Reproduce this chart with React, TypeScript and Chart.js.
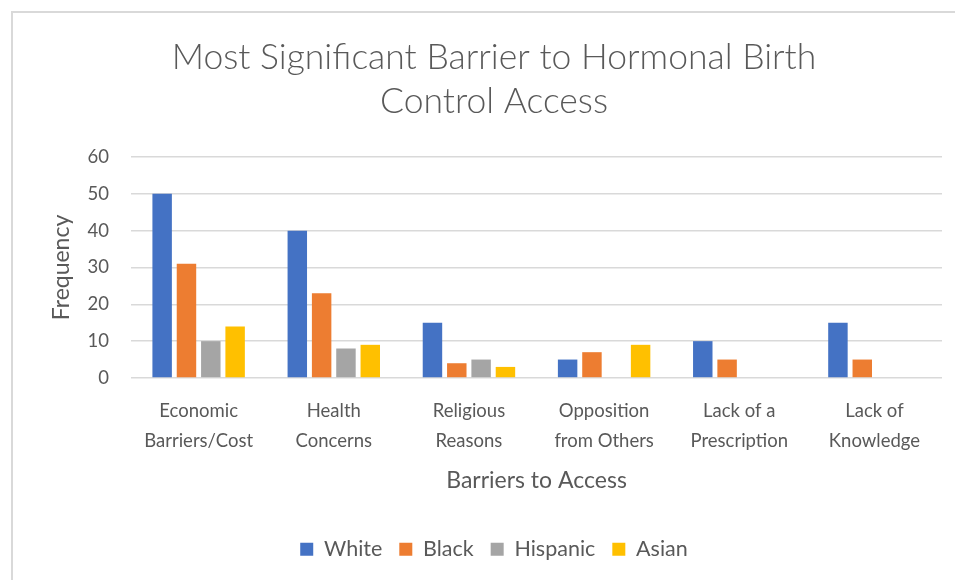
import React, { useEffect, useRef } from "react";
import { Chart, registerables } from "chart.js";

Chart.register(...registerables);

const categories: string[][] = [
  ["Economic", "Barriers/Cost"],
  ["Health", "Concerns"],
  ["Religious", "Reasons"],
  ["Opposition", "from Others"],
  ["Lack of a", "Prescription"],
  ["Lack of", "Knowledge"],
];
const white = [50, 40, 15, 5, 10, 15];
const black = [31, 23, 4, 7, 5, 5];
const hispanic = [10, 8, 5, 0, 0, 0];
const asian = [14, 9, 3, 9, 0, 0];

const titleLines = ["Most Significant Barrier to Hormonal Birth", "Control Access"];
const xTitle = "Barriers to Access";
const yTitle = "Frequency";

const FONT = "Lato, 'Open Sans', sans-serif";
const TEXT = "#595959";

const framePlugin = {
  id: "frame",
  beforeDraw(chart: any) {
    const ctx = chart.ctx;
    ctx.save();
    ctx.fillStyle = "#ffffff";
    ctx.fillRect(0, 0, chart.width, chart.height);
    ctx.strokeStyle = "#d9d9d9";
    ctx.lineWidth = 2;
    ctx.beginPath();
    ctx.moveTo(12, chart.height + 5);
    ctx.lineTo(12, 12);
    ctx.lineTo(chart.width + 5, 12);
    ctx.stroke();
    ctx.restore();
  },
};

export default function App() {
  const ref = useRef<HTMLCanvasElement>(null);
  useEffect(() => {
    if (!ref.current) return;
    const chart = new Chart(ref.current, {
      type: "bar",
      data: {
        labels: categories,
        datasets: [
          { label: "White", data: white, backgroundColor: "#4472C4" },
          { label: "Black", data: black, backgroundColor: "#ED7D31" },
          { label: "Hispanic", data: hispanic, backgroundColor: "#A5A5A5" },
          { label: "Asian", data: asian, backgroundColor: "#FFC000" },
        ],
      },
      options: {
        animation: false,
        responsive: false,
        maintainAspectRatio: false,
        layout: { padding: { left: 46, right: 13, top: 12, bottom: 10 } },
        datasets: { bar: { categoryPercentage: 0.72, barPercentage: 0.8 } },
        scales: {
          x: {
            grid: { display: false, drawTicks: false },
            border: { display: false },
            ticks: {
              color: TEXT,
              font: { family: FONT, size: 18.5, lineHeight: 1.62 },
              maxRotation: 0,
              autoSkip: false,
              padding: 18,
            },
            title: {
              display: true,
              text: xTitle,
              color: TEXT,
              font: { family: FONT, size: 23 },
              padding: { top: -7, bottom: 27 },
            },
          },
          y: {
            min: 0,
            max: 60,
            ticks: {
              stepSize: 10,
              color: TEXT,
              font: { family: FONT, size: 18.5 },
              padding: 22,
            },
            grid: { color: "#d9d9d9", lineWidth: 1.5, drawTicks: false },
            border: { display: false },
            title: {
              display: true,
              text: yTitle,
              color: TEXT,
              font: { family: FONT, size: 23 },
              padding: { top: 2, bottom: -10 },
            },
          },
        },
        plugins: {
          title: {
            display: true,
            text: titleLines,
            color: TEXT,
            font: { family: FONT, size: 35.5, weight: "300" as any, lineHeight: 1.24 },
            padding: { top: 24, bottom: 33 },
          },
          legend: {
            position: "bottom",
            labels: {
              color: TEXT,
              font: { family: FONT, size: 21.5 },
              boxWidth: 13,
              boxHeight: 13,
              padding: 17,
            },
          },
          tooltip: { enabled: false },
        },
      },
      plugins: [framePlugin],
    });
    return () => chart.destroy();
  }, []);
  return (
    <div style={{ position: "absolute", left: 0, top: 0, width: 955, height: 580 }}>
      <canvas ref={ref} width={955} height={580} style={{ width: 955, height: 580, display: "block" }} />
    </div>
  );
}
